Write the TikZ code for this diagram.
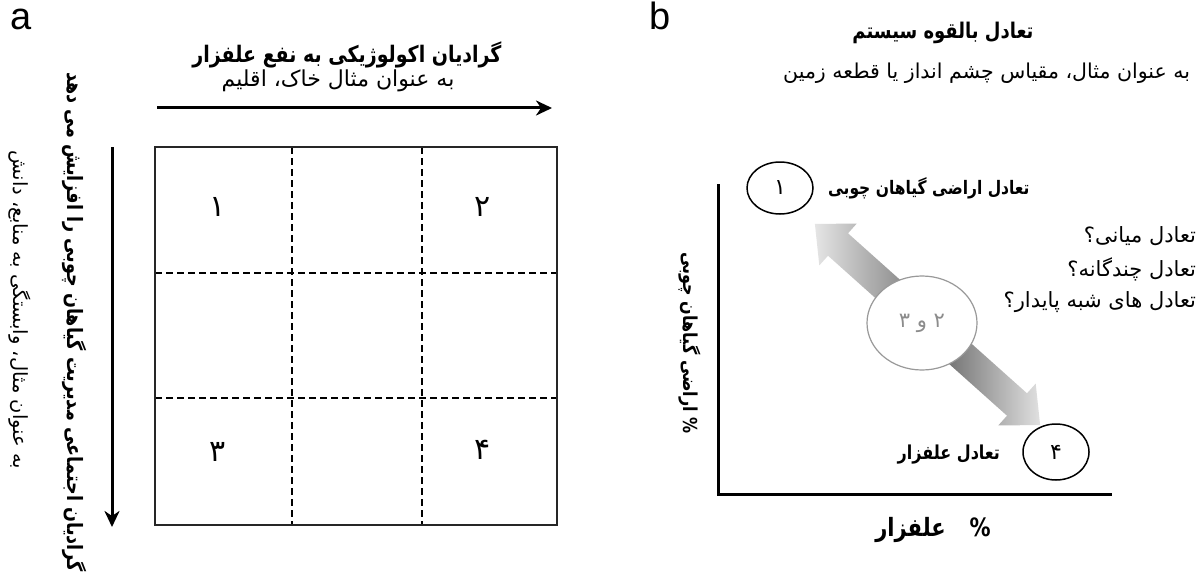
\documentclass[tikz,border=0pt]{standalone}
\usepackage{fontspec}
\usetikzlibrary{arrows.meta,shapes.geometric}
\TeXXeTstate=1
\newfontfamily\fa[Script=Arabic]{DejaVu Sans}
\newfontfamily\lat{Liberation Sans}
\newcommand{\rtl}[1]{\beginR #1\endR}
\newcommand{\fs}[1]{\fontsize{#1}{#1}\selectfont}
% bold headings are set a little taller than the face's natural proportions
\newcommand{\tallrtl}[1]{\scalebox{1}[1.2]{\beginR #1\endR}}

\begin{document}
\begin{tikzpicture}[x=1pt,y=-1pt,
  txt/.style={inner sep=0pt, outer sep=0pt},
  panel/.style={txt, anchor=base west, font=\lat\fs{38}},
  arr/.style={line width=3pt, -{Stealth[length=16pt,width=15pt,inset=5pt]}},
  axisline/.style={line width=3pt, line cap=rect},
  gridframe/.style={draw=black!85, line width=2pt},
  gridcut/.style={draw=black, line width=2pt, dash pattern=on 7pt off 4pt},
  cellnum/.style={txt, font=\fa\fs{30}},
  ring/.style={draw, ellipse, line width=1.5pt, inner sep=0pt,
    minimum width=66pt, minimum height=52pt, font=\fa\fs{22}},
  plain/.style={txt, font=\fa\fs{#1}},
  heavy/.style={txt, font=\fa\bfseries\fs{#1}},
]
\useasboundingbox (0,0) rectangle (1198,575);
\fill[white] (0,0) rectangle (1198,575);

% ---------------- panel a ----------------
\node[panel] (pa) at (10,30) {a};

\node[heavy=19] (atitle) at (347,55)
  {\tallrtl{گرادیان اکولوژیکی به نفع علفزار}};
\node[plain=22] (asub) at (338,81)
  {\rtl{به عنوان مثال خاک، اقلیم}};

\coordinate (hx0) at (157,108);
\coordinate (hx1) at (552,108);
\draw[arr] (hx0) -- (hx1);

\coordinate (vy0) at (112,147);
\coordinate (vy1) at (112,527);
\draw[arr] (vy0) -- (vy1);

\node[heavy=17.6, rotate=-90] (aside1) at (75,322)
  {\tallrtl{گرادیان اجتماعی مدیریت گیاهان چوبی را افزایش می دهد}};
\node[plain=19.5, rotate=-90] (aside2) at (20,310)
  {\rtl{به عنوان مثال، وابستگی به منابع، دانش}};

% 3x3 grid
\draw[gridcut] (292,147) -- (292,525);
\draw[gridcut] (422,147) -- (422,525);
\draw[gridcut] (155,273) -- (557,273);
\draw[gridcut] (155,398) -- (557,398);
\draw[gridframe] (155,147) rectangle (557,525);

\node[cellnum] (g1) at (218,207) {\rtl{۱}};
\node[cellnum] (g2) at (483,207) {\rtl{۲}};
\node[cellnum] (g3) at (218,452) {\rtl{۳}};
\node[cellnum] (g4) at (483,450) {\rtl{۴}};

% ---------------- panel b ----------------
\node[panel] (pb) at (649,30) {b};

\node[heavy=18] (btitle) at (943,33)
  {\tallrtl{تعادل بالقوه سیستم}};
\node[plain=20.5, anchor=east] (bsub) at (1190,73)
  {\rtl{به عنوان مثال، مقیاس چشم انداز یا قطعه زمین}};

% axes
\coordinate (ax0) at (718,185);
\coordinate (ax1) at (718,494);
\coordinate (ax2) at (1110,494);
\draw[axisline] (ax0) -- (ax1) -- (ax2);

\node[heavy=16, rotate=-90] (ylab) at (690,343)
  {\tallrtl{\% اراضی گیاهان چوبی}};
\node[heavy=21] (xlab) at (933,530)
  {\tallrtl{\%\hspace{24pt}علفزار}};

% shaded double arrow between the two stable states, darker toward its middle
\shade[left color=black!10, right color=black!58]
  (814.9,223.9) -- (856.7,223.6) -- (848.0,233.3) -- (937.5,313.3)
  -- (917.5,335.7) -- (828.0,255.7) -- (819.3,265.4) -- cycle;
\shade[left color=black!68, right color=black!12]
  (937.5,313.3) -- (1027.0,393.3) -- (1035.7,383.6) -- (1040.1,425.1)
  -- (998.3,425.4) -- (1007.0,415.7) -- (917.5,335.7) -- cycle;

\node[ellipse, draw=black!40, fill=white, line width=1.2pt, inner sep=0pt,
  minimum width=110pt, minimum height=94pt, text=black!45,
  font=\fa\fs{21}] (mid) at (922,323) {\rtl{۲ و ۳}};

\node[ring] (c1) at (780,188) {\rtl{۱}};
\node[heavy=15.5, anchor=west] (c1lab) at (828,188)
  {\tallrtl{تعادل اراضی گیاهان چوبی}};

\node[ring, minimum height=56pt] (c4) at (1056,452) {\rtl{۴}};
\node[heavy=16, anchor=east] (c4lab) at (1000,455)
  {\tallrtl{تعادل علفزار}};

\node[plain=21, anchor=east] (q1) at (1196,236)
  {\rtl{تعادل میانی؟}};
\node[plain=21, anchor=east] (q2) at (1196,269)
  {\rtl{تعادل چندگانه؟}};
\node[plain=21, anchor=east] (q3) at (1196,302)
  {\rtl{تعادل های شبه پایدار؟}};

\end{tikzpicture}
\end{document}
